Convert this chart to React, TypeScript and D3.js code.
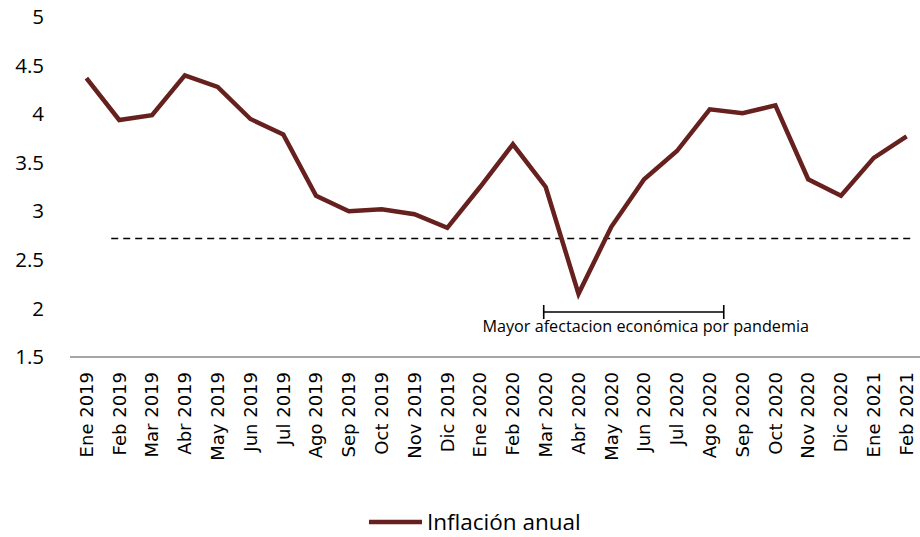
import React, { useEffect, useRef } from 'react';
import * as d3 from 'd3';

const months = [
  'Ene 2019', 'Feb 2019', 'Mar 2019', 'Abr 2019', 'May 2019', 'Jun 2019', 'Jul 2019',
  'Ago 2019', 'Sep 2019', 'Oct 2019', 'Nov 2019', 'Dic 2019', 'Ene 2020', 'Feb 2020',
  'Mar 2020', 'Abr 2020', 'May 2020', 'Jun 2020', 'Jul 2020', 'Ago 2020', 'Sep 2020',
  'Oct 2020', 'Nov 2020', 'Dic 2020', 'Ene 2021', 'Feb 2021'
];
const inflacion = [
  4.37, 3.94, 3.99, 4.4, 4.28, 3.95, 3.79, 3.16, 3.0, 3.02, 2.97, 2.83, 3.25, 3.69,
  3.25, 2.15, 2.84, 3.33, 3.62, 4.05, 4.01, 4.09, 3.33, 3.16, 3.55, 3.77
];
const yTicks = [1.5, 2, 2.5, 3, 3.5, 4, 4.5, 5];
const referencia = 2.72;
const pandemia = ['Mar 2020', 'Ago 2020'];
const serieNombre = 'Inflación anual';
const notaTexto = 'Mayor afectacion económica por pandemia';

const App = () => {
  const ref = useRef<SVGSVGElement>(null);

  useEffect(() => {
    const svg = d3.select(ref.current);
    svg.selectAll('*').remove();

    const width = 920;
    const left = 70;
    const right = 923;
    const top = 17;
    const bottom = 357;
    const color = '#66211f';

    const x = d3.scaleBand().domain(months).range([left, right]);
    const y = d3.scaleLinear().domain([1.5, 5]).range([bottom, top]);
    const cx = (m: string) => (x(m) as number) + x.bandwidth() / 2;

    // y labels
    svg
      .append('g')
      .selectAll('text')
      .data(yTicks)
      .join('text')
      .attr('x', 44)
      .attr('y', d => y(d))
      .attr('dy', '0.35em')
      .attr('text-anchor', 'end')
      .attr('font-family', "'Open Sans', sans-serif")
      .attr('font-size', 20.5)
      .attr('fill', '#000')
      .text(d => String(d));

    // x axis line
    svg
      .append('line')
      .attr('x1', left)
      .attr('x2', width)
      .attr('y1', y(1.5))
      .attr('y2', y(1.5))
      .attr('stroke', '#898989')
      .attr('stroke-width', 1.3);

    // x labels
    svg
      .append('g')
      .selectAll('text')
      .data(months)
      .join('text')
      .attr('transform', d => `translate(${cx(d)},${bottom + 15}) rotate(-90)`)
      .attr('dy', '0.35em')
      .attr('text-anchor', 'end')
      .attr('font-family', "'DejaVu Sans', sans-serif")
      .attr('font-size', 18)
      .attr('fill', '#000')
      .text(d => d);

    // dashed reference
    svg
      .append('line')
      .attr('x1', cx(months[1]) - 8)
      .attr('x2', right - 8)
      .attr('y1', y(referencia))
      .attr('y2', y(referencia))
      .attr('stroke', '#000')
      .attr('stroke-width', 1.5)
      .attr('stroke-dasharray', '7,5');

    // series line
    const line = d3
      .line<number>()
      .x((d, i) => cx(months[i]))
      .y(d => y(d));

    svg
      .append('path')
      .datum(inflacion)
      .attr('d', line)
      .attr('fill', 'none')
      .attr('stroke', color)
      .attr('stroke-width', 4.5)
      .attr('stroke-linejoin', 'miter');

    // pandemic bracket
    const bx1 = cx(pandemia[0]) - 2;
    const bx2 = cx(pandemia[1]) + 14;
    const by = 312;
    const br = svg.append('g').attr('stroke', '#000').attr('stroke-width', 1.6);
    br.append('line').attr('x1', bx1).attr('x2', bx2).attr('y1', by).attr('y2', by);
    br.append('line').attr('x1', bx1).attr('x2', bx1).attr('y1', by - 7).attr('y2', by + 7);
    br.append('line').attr('x1', bx2).attr('x2', bx2).attr('y1', by - 7).attr('y2', by + 7);

    svg
      .append('text')
      .attr('x', (bx1 + bx2) / 2 + 12)
      .attr('y', by + 20)
      .attr('text-anchor', 'middle')
      .attr('font-family', "'Open Sans', sans-serif")
      .attr('font-size', 16.2)
      .attr('fill', '#000')
      .text(notaTexto);

    // legend
    const lg = svg.append('g').attr('transform', 'translate(369,522)');
    lg.append('line')
      .attr('x1', 0)
      .attr('x2', 53)
      .attr('stroke', color)
      .attr('stroke-width', 4.5);
    lg.append('text')
      .attr('x', 58)
      .attr('dy', '0.35em')
      .attr('font-family', "'Open Sans', sans-serif")
      .attr('font-size', 22.5)
      .attr('fill', '#000')
      .text(serieNombre);
  }, []);

  return (
    <svg
      ref={ref}
      width={920}
      height={537}
      style={{ position: 'absolute', left: 0, top: 0, background: '#fff' }}
    />
  );
};

export default App;
